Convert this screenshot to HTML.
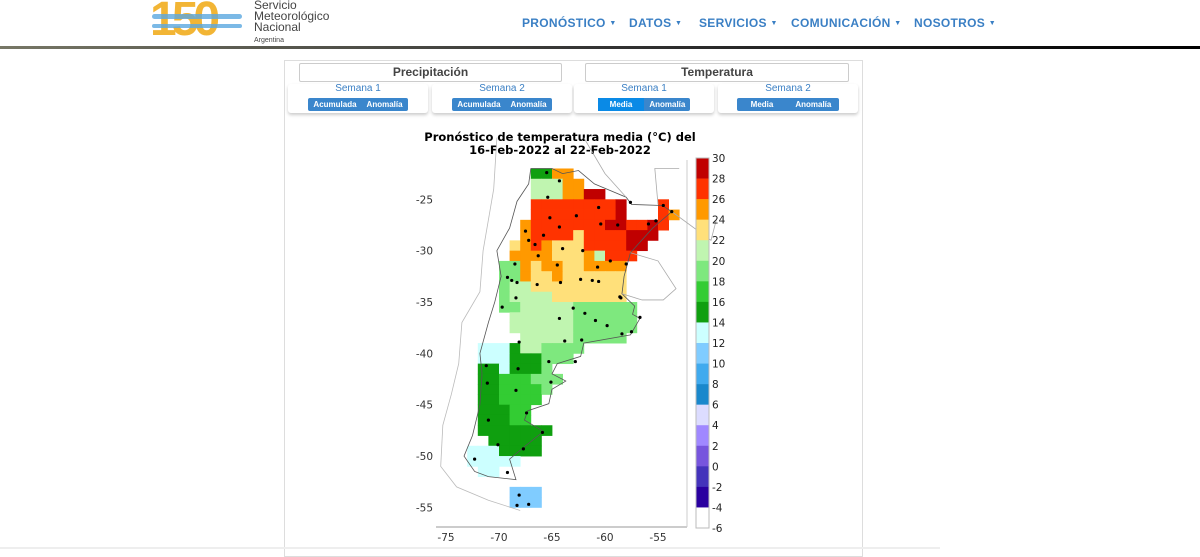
<!DOCTYPE html>
<html><head><meta charset="utf-8">
<style>
body{margin:0;width:1200px;height:550px;overflow:hidden;background:#fff;font-family:"Liberation Sans",sans-serif;position:relative}
.abs{position:absolute}
.nav{top:16px;font-size:12px;font-weight:bold;color:#3a7fc4;letter-spacing:.3px}
.nav span{font-size:7px;vertical-align:2px}
.hdr{top:63px;height:17px;border:1px solid #ccc;border-radius:2px;font-size:12px;font-weight:bold;color:#444;text-align:center;line-height:17px}
.card{top:84px;height:29px;width:140px;background:#fff;box-shadow:0 2px 3px #ccc;text-align:center;border-radius:3px}
.card .t{font-size:10px;color:#3a7fc4;margin-top:0;line-height:10px}
.btns{display:inline-flex;margin-top:1px;background:#3a86cc;border-radius:2px}
.btns div{font-size:8px;font-weight:bold;color:#fff;padding:2px 5px;line-height:9px}
.btns .act{background:#0a8ae6}
</style></head><body>
<div class="abs" style="left:150px;top:0;width:100px;height:40px">
<div class="abs" style="left:0;top:-8px;font-size:48px;font-weight:bold;color:#f2b535;letter-spacing:-5px">150</div>
<div class="abs" style="left:2px;top:14px;width:90px;height:5px;background:#5aa8e0;border-radius:3px;opacity:.8"></div>
<div class="abs" style="left:2px;top:24px;width:90px;height:4px;background:#5aa8e0;border-radius:3px;opacity:.8"></div>
</div>
<div class="abs" style="left:254px;top:0;font-size:12px;line-height:11px;color:#444">Servicio<br>Meteorológico<br>Nacional<br><span style="font-size:7px">Argentina</span></div>
<div class="abs nav" style="left:522px">PRONÓSTICO <span>▼</span></div>
<div class="abs nav" style="left:629px">DATOS <span>▼</span></div>
<div class="abs nav" style="left:699px">SERVICIOS <span>▼</span></div>
<div class="abs nav" style="left:791px">COMUNICACIÓN <span>▼</span></div>
<div class="abs nav" style="left:914px">NOSOTROS <span>▼</span></div>
<div class="abs" style="left:0;top:46px;width:1200px;height:3px;background:linear-gradient(90deg,#776 0%,#333 50%,#000 100%)"></div>

<div class="abs" style="left:284px;top:60px;width:577px;height:495px;border:1px solid #ddd;background:#fff"></div>
<div class="abs" style="left:0;top:547px;width:940px;height:2px;background:#eee"></div>
<div class="abs hdr" style="left:299px;width:261px">Precipitación</div>
<div class="abs hdr" style="left:585px;width:262px">Temperatura</div>
<div class="abs card" style="left:288px"><div class="t">Semana 1</div><div class="btns"><div>Acumulada</div><div>Anomalía</div></div></div>
<div class="abs card" style="left:432px"><div class="t">Semana 2</div><div class="btns"><div>Acumulada</div><div>Anomalía</div></div></div>
<div class="abs card" style="left:574px"><div class="t">Semana 1</div><div class="btns"><div class="act" style="padding:2px 12px">Media</div><div>Anomalía</div></div></div>
<div class="abs card" style="left:718px"><div class="t">Semana 2</div><div class="btns"><div style="padding:2px 14px">Media</div><div style="padding:2px 8px">Anomalía</div></div></div>

<svg class="abs" style="left:0;top:0;font-family:'DejaVu Sans',sans-serif" width="1200" height="550" id="map">
<text x="560" y="141" text-anchor="middle" font-size="11.5" font-weight="bold">Pronóstico de temperatura media (°C) del</text>
<text x="560" y="154" text-anchor="middle" font-size="11.5" font-weight="bold">16-Feb-2022 al 22-Feb-2022</text>
<line x1="436" y1="527" x2="687" y2="527" stroke="#999"/>
<line x1="687" y1="160" x2="687" y2="527" stroke="#ccc"/>
<g id="cells"></g><g id="outl"></g><g id="dots"></g><g id="cbar"></g><g id="ticks"></g>
</svg>
<script>
const rowLats=[-22,-23,-24,-25,-26,-27,-28,-29,-30,-31,-32,-33,-34,-35,-36,-37,-38,-39,-40,-41,-42,-43,-44,-45,-46,-47,-48,-49,-50,-51,-52,-53,-54];
const rowCodes=[
".......hhcc",
".......eeecc",
".......eeeccaa",
".......bbbbbbbba...b",
".......bbbbbbbba...bc",
"......cbbbbbbbaabbab",
"......cbbbbdbbbbaaa",
".....dcbcdddbbbbaa",
".....ccccdddcebbb",
"....ffcdccddcccc",
"....ffcddcdddddd",
"....feeddddddddd",
"....feeeeddddddd",
"....ffeeeeeffffff",
".....eeeeeeffffff",
".....eeeeeeffffff",
"......eeeeefffff",
"..iiiheeffff",
"..iiihhhfff",
"..hhihhhf",
"..hhgggfff",
"..hhggggf",
"..hhgggg",
"..hhhgg",
"..hhhgg",
"..hhhhhhh",
"...hhhhh",
".iiihhhh",
".iiiii",
"..ii",
"",
".....jjj",
".....jjj"];
const firstLon=-74;
const binCodes="abcdefghijklmnopqr";
const binColors=["#c00000","#ff3300","#ff9900","#ffe07a","#c0f5b0","#7ee87e","#33cc33","#0f9f0f","#ccffff","#80ccff","#40aaee","#1a88cc","#dcdcff","#a088ff","#7755dd","#4433bb","#2a00a0","#ffffff"];
const cbarTicks=[30,28,26,24,22,20,18,16,14,12,10,8,6,4,2,0,-2,-4,-6];
const xTicks=[-75,-70,-65,-60,-55];
const yTicks=[-25,-30,-35,-40,-45,-50,-55];
const stations=[[-65.4,-24.8],[-65.5,-22.4],[-64.3,-23.2],[-60.6,-25.8],[-57.6,-25.3],[-54.5,-25.6],[-53.7,-26.2],[-65.2,-26.8],[-64.3,-27.7],[-62.7,-26.6],[-60.4,-27.4],[-58.8,-27.5],[-55.9,-27.4],[-55.2,-27.1],[-67.5,-28.1],[-65.8,-28.5],[-66.6,-29.4],[-67.2,-29.0],[-64,-29.8],[-68.5,-31.3],[-66.3,-30.5],[-64.5,-31.4],[-62.1,-30],[-60.7,-31.6],[-59.5,-31.0],[-58,-31.3],[-68.8,-32.9],[-68.3,-33.1],[-69.2,-32.6],[-66.4,-33.3],[-64.2,-33.1],[-62.3,-32.8],[-61.2,-32.9],[-60.6,-33.0],[-58.5,-34.6],[-58.6,-34.5],[-68.4,-34.6],[-69.7,-35.5],[-63,-35.6],[-64.3,-36.6],[-61.9,-36.1],[-60.9,-36.8],[-59.8,-37.3],[-58.4,-38.1],[-57.5,-37.9],[-56.7,-36.5],[-62.2,-38.7],[-63.8,-38.8],[-68.1,-38.9],[-65.3,-40.8],[-62.8,-40.8],[-71.2,-41.2],[-68.2,-41.5],[-65.1,-42.8],[-71.1,-42.9],[-68.4,-43.6],[-67.4,-45.8],[-71,-46.5],[-65.9,-47.7],[-70.1,-48.9],[-67.7,-49.3],[-72.3,-50.3],[-69.2,-51.6],[-68.1,-53.8],[-68.3,-54.8],[-67.2,-54.7]];
const NS="http://www.w3.org/2000/svg";
function X(lon){return 446+(lon+75)*10.6;}
function Y(lat){return 199.3+(-25-lat)*10.27;}
function mk(tag,attrs,parent){const e=document.createElementNS(NS,tag);for(const k in attrs)e.setAttribute(k,attrs[k]);document.getElementById(parent).appendChild(e);return e;}
rowLats.forEach((lat,r)=>{const s=rowCodes[r];for(let c=0;c<s.length;c++){const ch=s[c];if(ch==='.')continue;const idx=binCodes.indexOf(ch);const lon=firstLon+c;
const e=mk('rect',{x:X(lon),y:Y(lat),width:X(lon+1)-X(lon)+0.4,height:Y(lat-1)-Y(lat)+0.4,fill:binColors[idx]},'cells');

}});
const outline=mk('path',{d:"M"+[[-67,-22],[-65,-22],[-64,-22.5],[-62.5,-22.2],[-61,-23.5],[-58,-24.8],[-57.5,-25.5],[-54.6,-25.6],[-53.7,-26.2],[-55.5,-27.8],[-57.6,-30.2],[-58.2,-32.5],[-58.4,-34.2],[-57.2,-35.4],[-57.4,-36.2],[-56.7,-36.6],[-57.6,-38.2],[-62,-39],[-62.3,-40.3],[-64.5,-41],[-65,-42],[-63.7,-42.7],[-65,-43.5],[-65.3,-44.9],[-67.3,-45.6],[-67.6,-46.5],[-65.8,-47.6],[-67.5,-49],[-69,-50.3],[-68.4,-52.3],[-71,-52],[-72.3,-51.5],[-73.3,-50],[-72.5,-48],[-71.8,-45],[-71.6,-42],[-71.8,-40],[-71,-37],[-70.4,-35],[-69.8,-32.5],[-70.2,-30],[-69,-27.8],[-68.3,-25.2],[-67.2,-23.5],[-67,-22]].map(p=>X(p[0])+","+Y(p[1])).join(" L"),fill:"none",stroke:"#555","stroke-width":0.8},'outl');


const chile=mk('path',{d:"M"+[[-70.2,-19],[-70.5,-24],[-71.5,-30],[-71.8,-34],[-73.5,-37],[-73.8,-41],[-74.5,-44],[-75.3,-47],[-75.5,-51],[-74,-53],[-71,-54.3],[-68,-55.3]].map(p=>X(p[0])+","+Y(p[1])).join(" L"),fill:"none",stroke:"#bbb","stroke-width":0.8},'outl');


const neigh=mk('path',{d:"M"+[[-62,-19],[-60,-22.5],[-58,-24.8]].map(p=>X(p[0])+","+Y(p[1])).join(" L")+" M"+[[-55,-25.5],[-55.3,-22],[-53,-22]].map(p=>X(p[0])+","+Y(p[1])).join(" L")+" M"+[[-57.6,-30.2],[-55,-31],[-53.3,-33.7],[-54.5,-34.8],[-56.5,-34.8],[-58.4,-34.2]].map(p=>X(p[0])+","+Y(p[1])).join(" L")+" M"+[[-53.7,-26.2],[-50,-29],[-49.5,-27]].map(p=>X(p[0])+","+Y(p[1])).join(" L"),fill:"none",stroke:"#aaa","stroke-width":0.8},'outl');


stations.forEach(p=>{const e=mk('circle',{cx:X(p[0]),cy:Y(p[1]),r:1.6,fill:"#000"},'dots');

});
const cbTop=158,cbH=370,bh=cbH/binColors.length;
binColors.forEach((col,i)=>{const e=mk('rect',{x:696,y:cbTop+i*bh,width:13,height:bh+0.3,fill:col},'cbar');

});
const cbf=mk('rect',{x:696,y:cbTop,width:13,height:cbH,fill:"none",stroke:"#bbb"},'cbar');


cbarTicks.forEach((v,i)=>{const e=mk('text',{x:712,y:cbTop+i*bh+4,"font-size":10.5,fill:"#222"},'cbar');e.textContent=v;

});
xTicks.forEach(v=>{const e=mk('text',{x:X(v),y:541,"font-size":10.5,"text-anchor":"middle",fill:"#333"},'ticks');e.textContent=v;

});
yTicks.forEach(v=>{const e=mk('text',{x:433,y:Y(v)+4,"font-size":10.5,"text-anchor":"end",fill:"#333"},'ticks');e.textContent=v;

});
</script>
</body></html>
